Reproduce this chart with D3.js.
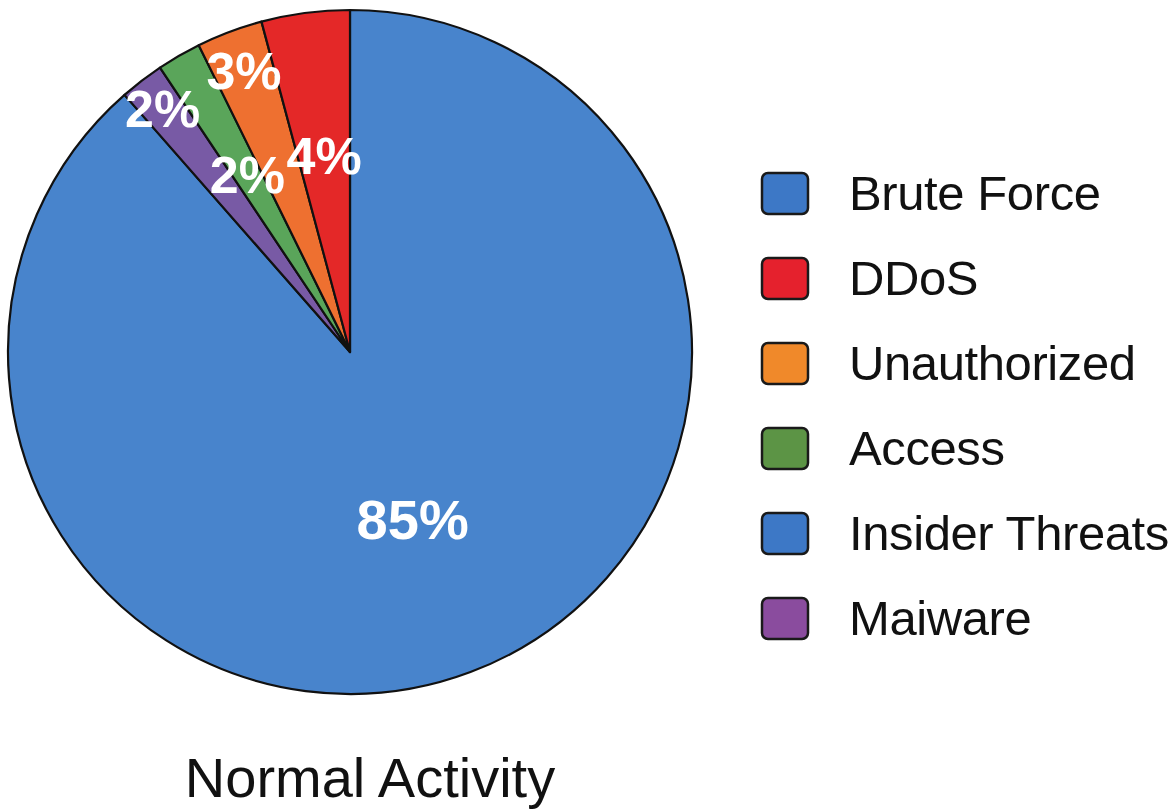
<!DOCTYPE html>
<html>
<head>
<meta charset="utf-8">
<script src="https://cdn.jsdelivr.net/npm/d3@7"></script>
<style>
  html, body { margin: 0; padding: 0; background: #ffffff; }
  svg { display: block; font-family: "Liberation Sans", Arial, Helvetica, sans-serif; }
</style>
</head>
<body>
<svg id="chart" width="1176" height="810"></svg>
<script>
// Slice data, in clockwise order from 12 o'clock
const sliceNames  = ["Brute Force", "Maiware", "Access", "Unauthorized", "DDoS"];
const sliceValues = [85, 2, 2, 3, 4];
const sliceColors = ["#4884cc", "#785aa5", "#5aa55a", "#ee7030", "#e42828"];

// Legend entries
const legendLabels = ["Brute Force", "DDoS", "Unauthorized", "Access", "Insider Threats", "Maiware"];
const legendColors = ["#3d78c6", "#e5212d", "#f0892a", "#5c9445", "#3d78c6", "#8a4c9e"];

const chartTitle = "Normal Activity";

// Layout
const cx = 350, cy = 352, R = 342;
// radial position of each percentage label, as a fraction of the radius
const labelRadius = [0.52, 0.9, 0.6, 0.88, 0.58];

const svg = d3.select("#chart");
const g = svg.append("g").attr("transform", `translate(${cx},${cy})`);

const pie = d3.pie().sort(null).value(d => d)(sliceValues);
const arc = d3.arc().innerRadius(0).outerRadius(R);

g.selectAll("path.slice")
  .data(pie)
  .join("path")
  .attr("class", "slice")
  .attr("d", arc)
  .attr("fill", (d, i) => sliceColors[i])
  .attr("stroke", "#111")
  .attr("stroke-width", 2.2)
  .attr("stroke-linejoin", "round");

g.selectAll("text.pct")
  .data(pie)
  .join("text")
  .attr("class", "pct")
  .attr("transform", (d, i) => {
    const r = R * labelRadius[i];
    const c = d3.arc().innerRadius(r).outerRadius(r).centroid(d);
    return `translate(${c[0]},${c[1]})`;
  })
  .attr("text-anchor", "middle")
  .attr("dy", "0.36em")
  .attr("fill", "#ffffff")
  .attr("font-weight", "bold")
  .attr("font-size", (d, i) => i === 0 ? 56 : 52)
  .text(d => d.data + "%");

// Legend
const legend = svg.append("g").attr("transform", "translate(762,193)");
const rowStep = 85;
const items = legend.selectAll("g.item")
  .data(legendLabels)
  .join("g")
  .attr("class", "item")
  .attr("transform", (d, i) => `translate(0,${i * rowStep})`);

items.append("rect")
  .attr("x", 0).attr("y", -20)
  .attr("width", 46).attr("height", 41)
  .attr("rx", 6).attr("ry", 6)
  .attr("fill", (d, i) => legendColors[i])
  .attr("stroke", "#1a1a1a")
  .attr("stroke-width", 2.5);

items.append("text")
  .attr("x", 87)
  .attr("y", 17)
  .attr("font-size", 49)
  .attr("letter-spacing", -0.4)
  .attr("fill", "#111")
  .text(d => d);

// Title under the pie
svg.append("text")
  .attr("x", 370)
  .attr("y", 797)
  .attr("text-anchor", "middle")
  .attr("font-size", 56)
  .attr("fill", "#111")
  .text(chartTitle);
</script>
</body>
</html>
